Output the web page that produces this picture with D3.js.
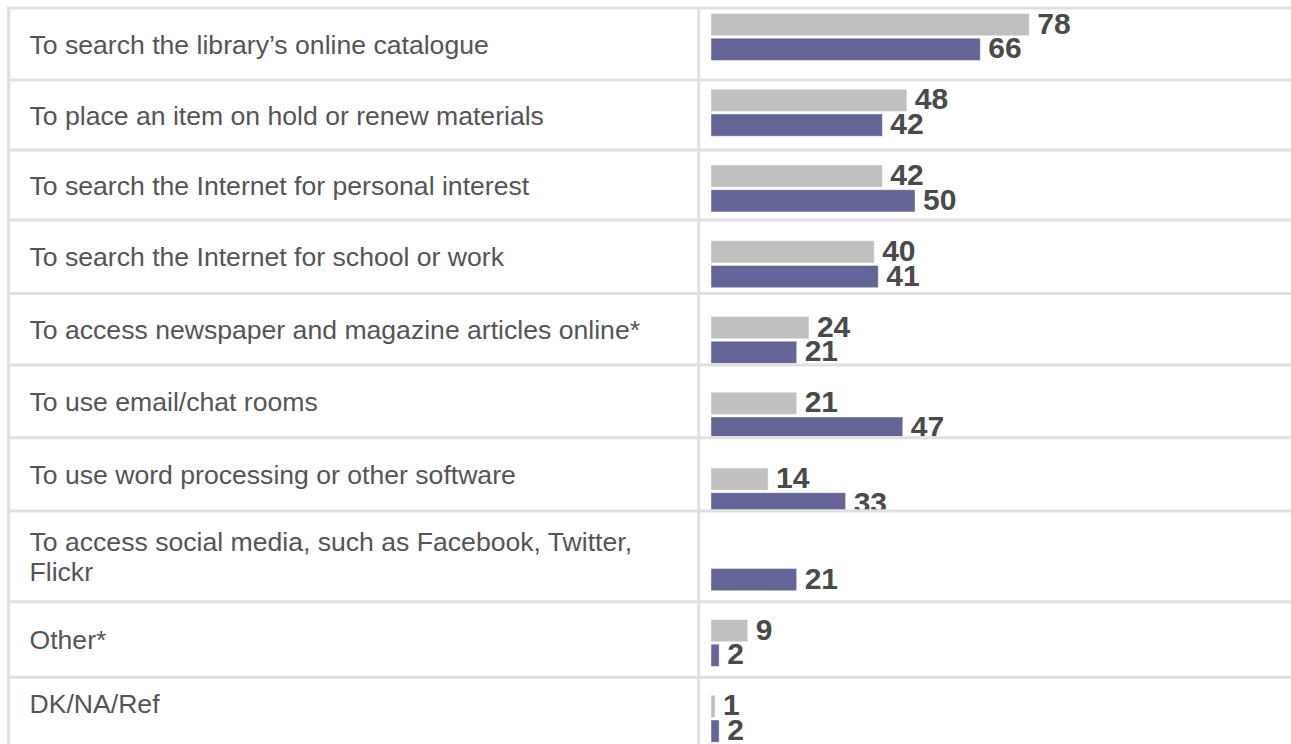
<!DOCTYPE html>
<html>
<head>
<meta charset="utf-8">
<script src="https://cdn.jsdelivr.net/npm/d3@7"></script>
<style>
  html, body { margin: 0; padding: 0; background: #ffffff; }
  svg { display: block; }
</style>
</head>
<body>
<svg id="chart" width="1291" height="744"></svg>
<script>
// Reasons for using library computers / internet access (%)
const categories = [
  "To search the library’s online catalogue",
  "To place an item on hold or renew materials",
  "To search the Internet for personal interest",
  "To search the Internet for school or work",
  "To access newspaper and magazine articles online*",
  "To use email/chat rooms",
  "To use word processing or other software",
  "To access social media, such as Facebook, Twitter, Flickr",
  "Other*",
  "DK/NA/Ref"
];
const seriesNames = ["Earlier survey", "Latest survey"];
const earlierValues = [78, 48, 42, 40, 24, 21, 14, null, 9, 1];
const latestValues  = [66, 42, 50, 41, 21, 47, 33, 21, 2, 2];

// Table layout (px)
const W = 1291, H = 744;
const tableTop = 8, tableLeft = 8.7, dividerX = 698.7;
const rowHeights = [72, 70, 70, 73.5, 71.5, 72.7, 73.3, 90.7, 75.6, 52];
const gridColor = "#e0e0e0";
const colors = { "Earlier survey": "#c0c0c0", "Latest survey": "#646496" };

const rowEdges = [tableTop];
rowHeights.forEach(h => rowEdges.push(rowEdges[rowEdges.length - 1] + h));
const lastRow = categories.length - 1;

const svg = d3.select("#chart");
svg.append("rect").attr("width", W).attr("height", H).attr("fill", "#fff");

const x = d3.scaleLinear().domain([0, 100]).range([711, 1119]);
const y = d3.scaleBand().domain(categories).range([13.5, 742.2]).paddingInner(0.38).paddingOuter(0);
const ySeries = d3.scaleBand().domain(seriesNames).range([0, y.bandwidth()]).paddingInner(0.1);

const rows = categories.map((c, i) => ({
  category: c,
  index: i,
  top: rowEdges[i],
  bottom: rowEdges[i + 1],
  values: [
    { series: seriesNames[0], value: earlierValues[i] },
    { series: seriesNames[1], value: latestValues[i] }
  ].filter(d => d.value != null)
}));

// clip each row's bars to its cell (the last cell runs off the bottom)
const defs = svg.append("defs");
rows.forEach(r => {
  const bottom = r.index === lastRow ? H + 10 : r.bottom - 1.5;
  defs.append("clipPath").attr("id", "cell-" + r.index)
    .append("rect")
    .attr("x", dividerX + 1.5)
    .attr("y", r.top + 1.5)
    .attr("width", W - dividerX)
    .attr("height", bottom - r.top - 1.5);
});

const barRows = svg.append("g").selectAll("g.row")
  .data(rows).join("g")
  .attr("class", "row")
  .attr("clip-path", r => `url(#cell-${r.index})`);

barRows.selectAll("rect")
  .data(r => r.values.map(v => ({ ...v, category: r.category })))
  .join("rect")
  .attr("x", x(0))
  .attr("y", d => y(d.category) + ySeries(d.series))
  .attr("width", d => x(d.value) - x(0))
  .attr("height", ySeries.bandwidth())
  .attr("fill", d => colors[d.series])
  .attr("stroke", "#ffffff")
  .attr("stroke-opacity", 0.45)
  .attr("stroke-width", 1);

barRows.selectAll("text")
  .data(r => r.values.map(v => ({ ...v, category: r.category })))
  .join("text")
  .attr("x", d => x(d.value) + 8)
  .attr("y", d => y(d.category) + ySeries(d.series) + ySeries.bandwidth() - 2)
  .attr("font-family", "Arial, 'Liberation Sans', sans-serif")
  .attr("font-weight", "bold")
  .attr("font-size", 30)
  .attr("fill", "#4a4a4a")
  .text(d => d.value);

// category labels, wrapped to the cell width and centred vertically
const labelFont = 26.6, lineHeight = 30, maxLabelWidth = 645;
const labels = svg.append("g")
  .attr("font-family", "Arial, 'Liberation Sans', sans-serif")
  .attr("font-size", labelFont)
  .attr("fill", "#555555");

rows.forEach(r => {
  const t = labels.append("text").attr("x", 29.5);
  const words = r.category.split(" ");
  const lines = [];
  let current = [];
  const probe = t.append("tspan");
  words.forEach(w => {
    const trial = current.concat(w).join(" ");
    probe.text(trial);
    if (probe.node().getComputedTextLength() > maxLabelWidth && current.length) {
      lines.push(current.join(" "));
      current = [w];
    } else {
      current.push(w);
    }
  });
  lines.push(current.join(" "));
  probe.remove();
  const center = (r.top + r.bottom) / 2;
  const firstBaseline = center - (lines.length - 1) * lineHeight / 2 + 0.358 * labelFont;
  lines.forEach((ln, k) => {
    t.append("tspan").attr("x", 29.5).attr("y", firstBaseline + k * lineHeight).text(ln);
  });
});

// grid lines
const grid = svg.append("g").attr("stroke", gridColor).attr("stroke-width", 3);
grid.selectAll("line.h").data(rowEdges.slice(0, -1)).join("line")
  .attr("class", "h")
  .attr("x1", tableLeft - 1.5).attr("x2", W)
  .attr("y1", d => d).attr("y2", d => d);
grid.selectAll("line.v").data([tableLeft, dividerX]).join("line")
  .attr("class", "v")
  .attr("x1", d => d).attr("x2", d => d)
  .attr("y1", tableTop - 1.5).attr("y2", H);
</script>
</body>
</html>
